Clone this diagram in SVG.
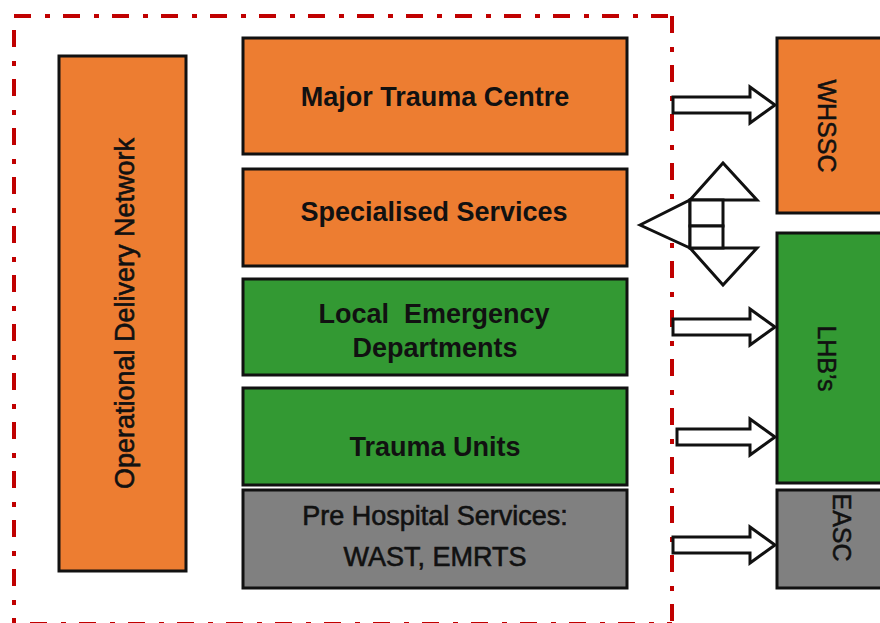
<svg xmlns="http://www.w3.org/2000/svg" width="880" height="623" viewBox="0 0 880 623">
<style>
.box{stroke:#111;stroke-width:3}
.org{fill:#ED7D31}
.grn{fill:#339933}
.gry{fill:#808080}
.t{font-family:"Liberation Sans",Arial,sans-serif;fill:#111;text-anchor:middle;white-space:pre}
.b{font-weight:bold;font-size:27px}
.r{font-size:27px;stroke:#111;stroke-width:0.6}
.side{font-size:25px;stroke:#111;stroke-width:0.5}
.arr{fill:#fff;stroke:#111;stroke-width:3;stroke-linejoin:miter}
.border{stroke:#C00000;stroke-width:4;fill:none;stroke-dasharray:17 14 5 13}
</style>
<rect width="880" height="623" fill="#fff"/>
<g id="boundary">
<line class="border" x1="14" y1="16" x2="672" y2="16"/>
<line class="border" x1="14" y1="30" x2="14" y2="623"/>
<line class="border" x1="672" y1="16" x2="672" y2="623"/>
<line class="border" x1="30" y1="624" x2="672" y2="624"/>
</g>
<g id="odn">
<rect class="box org" x="59" y="56" width="127" height="515"/>
<text class="t r" transform="translate(134,313.5) rotate(-90)">Operational Delivery Network</text>
</g>
<g id="mtc">
<rect class="box org" x="243" y="38" width="384" height="116"/>
<text class="t b" x="435" y="106">Major Trauma Centre</text>
</g>
<g id="ss">
<rect class="box org" x="243" y="169" width="384" height="97"/>
<text class="t b" x="434" y="221">Specialised Services</text>
</g>
<g id="led">
<rect class="box grn" x="243" y="279" width="384" height="96"/>
<text class="t b" x="434" y="323">Local  Emergency</text>
<text class="t b" x="435" y="357">Departments</text>
</g>
<g id="tu">
<rect class="box grn" x="243" y="388" width="384" height="97"/>
<text class="t b" x="435" y="456">Trauma Units</text>
</g>
<g id="phs">
<rect class="box gry" x="243" y="490" width="384" height="98"/>
<text class="t r" x="435" y="525">Pre Hospital Services:</text>
<text class="t r" x="435" y="566">WAST, EMRTS</text>
</g>
<g id="whssc">
<rect class="box org" x="777" y="38" width="120" height="175"/>
<text class="t side" transform="translate(818,126) rotate(90)">WHSSC</text>
</g>
<g id="lhbs">
<rect class="box grn" x="777" y="233" width="120" height="250"/>
<text class="t side" transform="translate(818,358.5) rotate(90)">LHB’s</text>
</g>
<g id="easc">
<rect class="box gry" x="777" y="490" width="120" height="98"/>
<text class="t side" transform="translate(833,527.5) rotate(90)">EASC</text>
</g>
<g id="connectors">
<polygon class="arr" points="673,97 750,97 750,87 775,105 750,123 750,113 673,113"/>
<polygon class="arr" points="673,319 750,319 750,309 775,327 750,345 750,335 673,335"/>
<polygon class="arr" points="677,429 750,429 750,419 775,437 750,455 750,445 677,445"/>
<polygon class="arr" points="673,537 750,537 750,527 775,545 750,563 750,553 673,553"/>
<g id="tri-arrow">
<polygon class="arr" points="640,225 690,200 690,248"/>
<polygon class="arr" points="690,200 723,163 757,200"/>
<polygon class="arr" points="690,248 757,248 723,285"/>
<rect class="arr" x="690" y="200" width="33" height="26"/>
<rect class="arr" x="690" y="226" width="33" height="22"/>
</g>
</g>
</svg>
